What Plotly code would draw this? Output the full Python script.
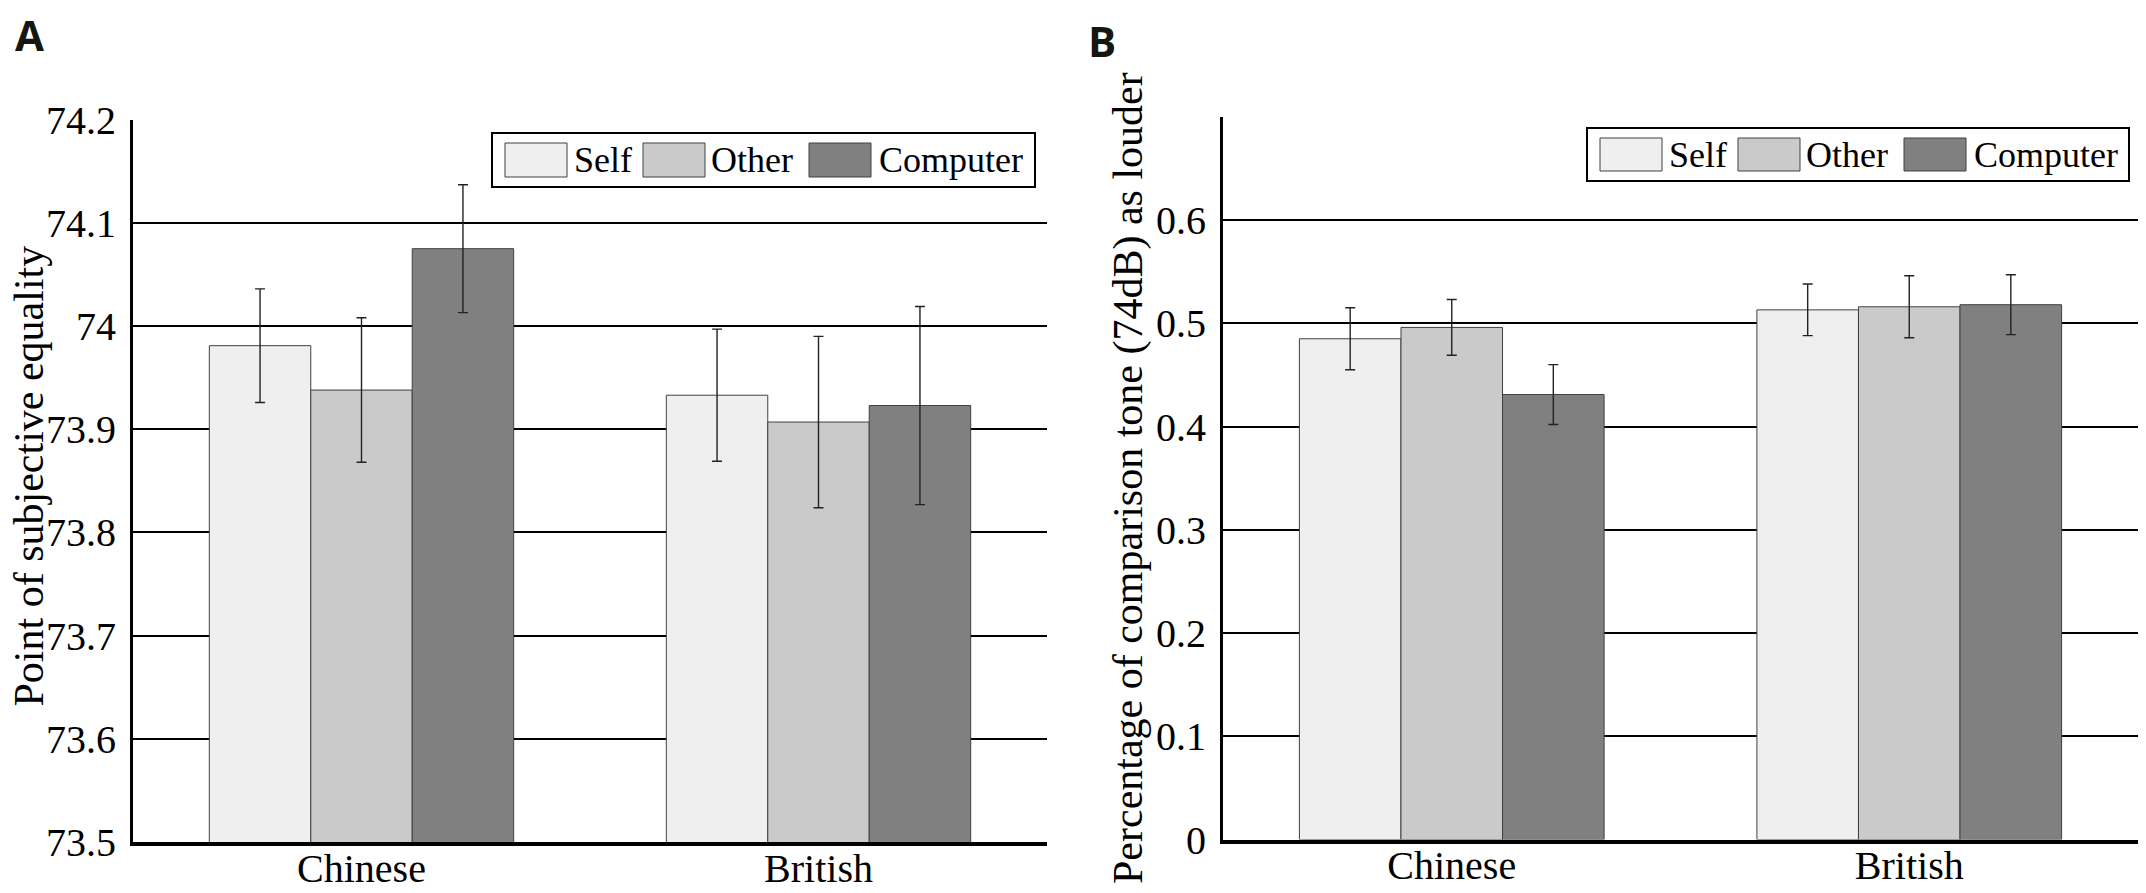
import plotly.graph_objects as go

# The page body adds an 8 px offset; the figure is sized to the remaining viewport
OFF = 8
W, H = 2146 - OFF, 893 - OFF

categories = ["Chinese", "British"]
series_names = ["Self", "Other", "Computer"]
series_colors = ["#efefef", "#cacaca", "#808080"]

# Panel A: point of subjective equality
pse_self = [73.981, 73.933]
pse_other = [73.938, 73.907]
pse_computer = [74.075, 73.923]
pse_self_err = [0.055, 0.064]
pse_other_err = [0.070, 0.083]
pse_computer_err = [0.062, 0.096]

# Panel B: percentage of comparison tone judged louder
pct_self = [0.485, 0.513]
pct_other = [0.496, 0.516]
pct_computer = [0.431, 0.518]
pct_self_err = [0.030, 0.025]
pct_other_err = [0.027, 0.030]
pct_computer_err = [0.029, 0.029]

yticks_a = [73.5, 73.6, 73.7, 73.8, 73.9, 74.0, 74.1, 74.2]
yticklabels_a = ["73.5", "73.6", "73.7", "73.8", "73.9", "74", "74.1", "74.2"]
yticks_b = [0, 0.1, 0.2, 0.3, 0.4, 0.5, 0.6]
yticklabels_b = ["0", "0.1", "0.2", "0.3", "0.4", "0.5", "0.6"]

SERIF = "Liberation Serif"


def px(x):
    return (x - OFF) / W


def py(y):
    return 1 - (y - OFF) / H


fig = go.Figure()

panel_a = [(pse_self, pse_self_err), (pse_other, pse_other_err), (pse_computer, pse_computer_err)]
panel_b = [(pct_self, pct_self_err), (pct_other, pct_other_err), (pct_computer, pct_computer_err)]

for (vals, errs), name, col in zip(panel_a, series_names, series_colors):
    fig.add_trace(go.Bar(
        x=categories, y=vals, name=name, xaxis="x", yaxis="y",
        marker=dict(color=col, line=dict(color="#404040", width=1)),
        error_y=dict(type="data", array=errs, visible=True, color="#222222", thickness=1.4, width=5),
        showlegend=False, offsetgroup=name,
    ))
for (vals, errs), name, col in zip(panel_b, series_names, series_colors):
    fig.add_trace(go.Bar(
        x=categories, y=vals, name=name, xaxis="x2", yaxis="y2",
        marker=dict(color=col, line=dict(color="#404040", width=1)),
        error_y=dict(type="data", array=errs, visible=True, color="#222222", thickness=1.4, width=5),
        showlegend=False, offsetgroup=name,
    ))

xa_common = dict(
    type="category", range=[-0.5, 1.5], showline=True, linecolor="black", linewidth=3.5,
    showgrid=False, ticks="", tickfont=dict(family=SERIF, size=40, color="black"),
    zeroline=False, automargin=False, ticklabelstandoff=-12,
)
ya_common = dict(
    showline=True, linecolor="black", linewidth=3, showgrid=True, gridcolor="black", gridwidth=2,
    ticks="", tickfont=dict(family=SERIF, size=40, color="black"), zeroline=False,
    ticklabelstandoff=6, automargin=False,
)

fig.update_layout(
    template="none",
    width=W, height=H, autosize=False,
    margin=dict(l=0, r=0, t=0, b=0, pad=0, autoexpand=False),
    paper_bgcolor="white", plot_bgcolor="white",
    barmode="group", bargap=0.334, bargroupgap=0,
    font=dict(family=SERIF, color="black"),
    xaxis=dict(domain=[px(133), px(1047)], anchor="y", **xa_common),
    xaxis2=dict(domain=[px(1223), px(2138)], anchor="y2", **xa_common),
    yaxis=dict(domain=[py(842), py(119.7)], anchor="x", range=[73.5, 74.2],
               tickvals=yticks_a, ticktext=yticklabels_a, **ya_common),
    yaxis2=dict(domain=[py(839.5), py(116.8)], anchor="x2", range=[0, 0.7],
                tickvals=yticks_b, ticktext=yticklabels_b, **ya_common),
    showlegend=False,
)

annotations = []
shapes = []

# Panel letters
annotations.append(dict(text="<b>A</b>", x=px(29), y=py(35), xref="paper", yref="paper",
                        showarrow=False, xanchor="center", yanchor="middle",
                        font=dict(family="Open Sans", size=42, color="#161610")))
annotations.append(dict(text="<b>B</b>", x=px(1102), y=py(40), xref="paper", yref="paper",
                        showarrow=False, xanchor="center", yanchor="middle",
                        font=dict(family="Open Sans", size=42, color="#161610")))

# Axis titles
annotations.append(dict(text="Point of subjective equality", x=px(28), y=py(476.5),
                        xref="paper", yref="paper", showarrow=False, textangle=-90,
                        xanchor="center", yanchor="middle",
                        font=dict(family=SERIF, size=42, color="black")))
annotations.append(dict(text="Percentage of comparison tone (74dB) as louder", x=px(1128), y=py(478),
                        xref="paper", yref="paper", showarrow=False, textangle=-90,
                        xanchor="center", yanchor="middle",
                        font=dict(family=SERIF, size=42, color="black")))

# Custom legends (large swatches like the original)
swatch_off = [13, 151, 317]
text_off = [82, 219, 387]
for (bx0, bx1, by0, by1) in [(492, 1035, 133, 187), (1587, 2129, 128, 181)]:
    shapes.append(dict(type="rect", xref="paper", yref="paper",
                       x0=px(bx0), x1=px(bx1), y0=py(by1), y1=py(by0),
                       line=dict(color="black", width=2), fillcolor="white", layer="above"))
    sy0, sy1 = by0 + 10, by1 - 10
    for name, col, so, to in zip(series_names, series_colors, swatch_off, text_off):
        shapes.append(dict(type="rect", xref="paper", yref="paper",
                           x0=px(bx0 + so), x1=px(bx0 + so + 62), y0=py(sy1), y1=py(sy0),
                           line=dict(color="#404040", width=1), fillcolor=col, layer="above"))
        annotations.append(dict(text=name, x=px(bx0 + to - 2), y=py((sy0 + sy1) / 2),
                                xref="paper", yref="paper", showarrow=False,
                                xanchor="left", yanchor="middle",
                                font=dict(family=SERIF, size=36, color="black")))

fig.update_layout(annotations=annotations, shapes=shapes)

fig.write_html("out.html")
